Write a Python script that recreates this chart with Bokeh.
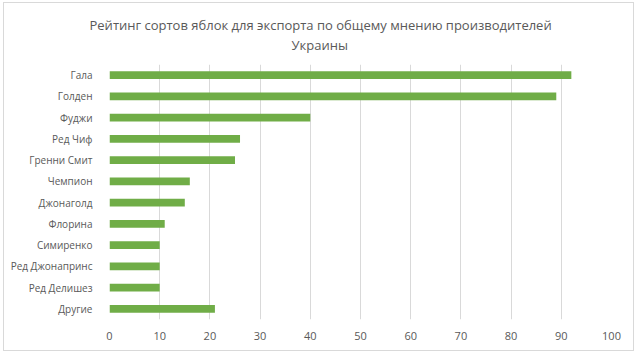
from bokeh.plotting import figure
from bokeh.models import ColumnDataSource, FactorRange, Range1d, Title, FixedTicker
from bokeh.embed import file_html
from bokeh.resources import INLINE

varieties = ["Гала", "Голден", "Фуджи", "Ред Чиф", "Гренни Смит", "Чемпион",
             "Джонаголд", "Флорина", "Симиренко", "Ред Джонапринс", "Ред Делишез", "Другие"]
scores = [92, 89, 40, 26, 25, 16, 15, 11, 10, 10, 10, 21]
x_ticks = [0, 10, 20, 30, 40, 50, 60, 70, 80, 90, 100]
title_lines = ["Рейтинг сортов яблок для экспорта по общему мнению производителей", "Украины"]

TEXT = "#595959"
FONT = "Open Sans"

src = ColumnDataSource(dict(cat=varieties, val=scores))

p = figure(width=631, height=349, output_backend="svg", toolbar_location=None,
           y_range=FactorRange(*list(reversed(varieties))), x_range=Range1d(0, 100),
           min_border_left=105, min_border_right=24, min_border_top=61, min_border_bottom=33,
           styles={"border": "1px solid #d9d9d9", "margin-left": "3px", "margin-top": "2px"})
p.hbar(y="cat", right="val", left=0, height=0.36, source=src, color="#70AD47", line_color=None)

# spacer closest to the frame
p.add_layout(Title(text=" ", text_font=FONT, text_font_size="7px", standoff=0), "above")
offsets = [-20, 182]
for i in [1, 0]:
    t = Title(text=title_lines[i], align="left", offset=offsets[i], text_font=FONT,
              text_font_size="13px", text_font_style="normal", text_color=TEXT, standoff=0)
    p.add_layout(t, "above")

p.xaxis.ticker = FixedTicker(ticks=x_ticks)
p.xaxis.axis_line_color = None
p.xaxis.major_tick_line_color = None
p.xaxis.minor_tick_line_color = None
p.xaxis.major_label_text_font = FONT
p.xaxis.major_label_text_font_size = "11px"
p.xaxis.major_label_text_color = TEXT
p.xaxis.major_label_standoff = 6

p.yaxis.axis_line_color = None
p.yaxis.major_tick_line_color = None
p.yaxis.major_label_text_font = FONT
p.yaxis.major_label_text_font_size = "10px"
p.yaxis.major_label_text_color = TEXT
p.yaxis.major_label_standoff = 11

p.xgrid.grid_line_color = "#d9d9d9"
p.ygrid.grid_line_color = None
p.outline_line_color = None
p.background_fill_color = "white"
p.border_fill_color = "white"

open("out.html", "w").write(file_html(p, INLINE))
